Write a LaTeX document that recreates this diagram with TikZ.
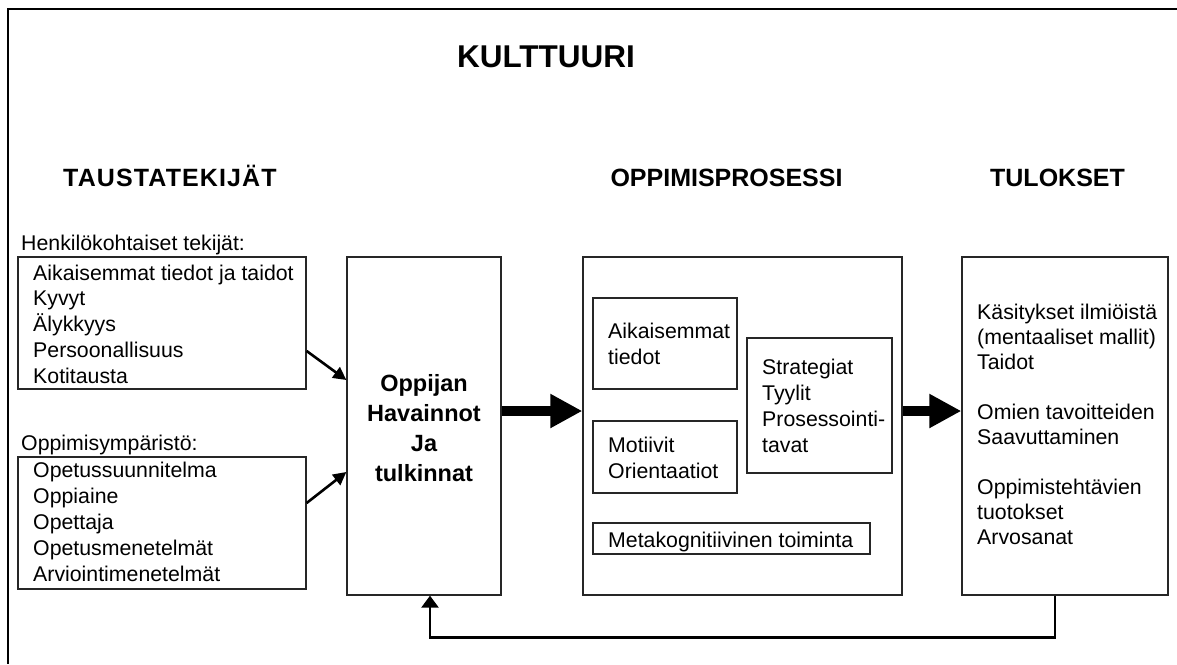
\documentclass[tikz,border=0pt]{standalone}
\usepackage{fontspec}
\setmainfont{Liberation Sans}
\usetikzlibrary{arrows.meta,calc}
\newcommand\rgf{\fontsize{21.3}{25}\selectfont}
\newcommand\hdf{\fontsize{25}{30}\selectfont\bfseries}
\begin{document}
\begin{tikzpicture}[x=1pt,y=-1pt,
  box/.style={draw=black!85, line width=1.3pt, fill=white, inner sep=0pt},
  ln/.style={anchor=base west, inner sep=0pt, font=\rgf},
  hd/.style={anchor=base, inner sep=0pt, font=\hdf},
  thinarr/.style={line width=2.6pt, -{Triangle[length=13pt,width=13pt]}},
  thickarr/.style={line width=10pt, -{Triangle[length=32pt,width=32pt]}},
  fbarr/.style={line width=2.6pt, -{Triangle[length=12pt,width=17pt]}}]
\useasboundingbox (0,0) rectangle (1177,664);
\fill[white] (0,0) rectangle (1177,664);
% outer frame (top and left only)
\draw[line width=2pt] (1177,9) -- (8,9) -- (8,664);

% headings
\node[hd, font=\fontsize{31.5}{36}\selectfont\bfseries] (kult) at (546,67) {KULTTUURI};
\node[hd, anchor=base west] (taus) at (63,186) {\addfontfeature{LetterSpace=4.5}TAUSTATEKIJÄT};
\node[hd] (opp) at (726.5,186) {OPPIMISPROSESSI};
\node[hd] (tul) at (1057.5,186) {TULOKSET};

% boxes
\node[box, minimum width=288pt, minimum height=132pt] (box1) at (162,323) {};
\node[box, minimum width=288pt, minimum height=132pt] (box2) at (162,523) {};
\node[box, minimum width=154pt, minimum height=338pt] (box3) at (424,426) {};
\node[box, minimum width=319pt, minimum height=338pt] (box4) at (742.5,426) {};
\node[box, minimum width=206pt, minimum height=338pt] (box5) at (1065,426) {};
\node[box, minimum width=144pt, minimum height=91pt] (ia) at (665,343.5) {};
\node[box, minimum width=144pt, minimum height=72pt] (ib) at (665,457) {};
\node[box, minimum width=145pt, minimum height=135pt] (ic) at (819.5,405.5) {};
\node[box, minimum width=277pt, minimum height=31pt] (id) at (731.5,538.5) {};

% left labels and lists
\node[ln] (lab1) at (21,250) {Henkilökohtaiset tekijät:};
\node[ln] (lab2) at (21,450) {Oppimisympäristö:};
\foreach \t [count=\i from 0] in {Aikaisemmat tiedot ja taidot,Kyvyt,Älykkyys,Persoonallisuus,Kotitausta}
  \node[ln] (p\i) at (33,{280+25.75*\i}) {\t};
\foreach \t [count=\i from 0] in {Opetussuunnitelma,Oppiaine,Opettaja,Opetusmenetelmät,Arviointimenetelmät}
  \node[ln] (e\i) at (33,{477+26*\i}) {\t};

% learner box
\foreach \t [count=\i from 0] in {Oppijan,Havainnot,Ja,tulkinnat}
  \node[hd, font=\fontsize{23.5}{30}\selectfont\bfseries] (o\i) at (424,{391.5+30*\i}) {\t};

% inner boxes text
\node[ln] (ia1) at (608,338) {Aikaisemmat};
\node[ln] (ia2) at (608,364) {tiedot};
\node[ln] (ib1) at (608,452) {Motiivit};
\node[ln] (ib2) at (608,478) {Orientaatiot};
\foreach \t [count=\i from 0] in {Strategiat,Tyylit,Prosessointi-,tavat}
  \node[ln] (c\i) at (762,{374+26*\i}) {\t};
\node[ln] (id1) at (608,547) {Metakognitiivinen toiminta};

% results
\foreach \k/\t in {0/Käsitykset ilmiöistä,1/{(mentaaliset mallit)},2/Taidot,4/Omien tavoitteiden,5/Saavuttaminen,7/Oppimistehtävien,8/tuotokset,9/Arvosanat}
  \node[ln] (r\k) at (977,{319.5+25*\k}) {\t};

% connectors
\draw[thinarr] ($(box1.east)+(0,28)$) -- ($(box3.west)+(0,-46)$);
\draw[thinarr] ($(box2.east)+(0,-20)$) -- ($(box3.west)+(0,46)$);
\draw[thickarr] ($(box3.east)+(0,-15)$) -- ($(box4.west)+(0,-15)$);
\draw[thickarr] ($(box4.east)+(0,-15)$) -- ($(box5.west)+(0,-15)$);
\draw[fbarr] ($(box5.south)+(-10,0)$) |- ($(box3.south)+(6,42)$) -- ($(box3.south)+(6,0)$);
\end{tikzpicture}
\end{document}
